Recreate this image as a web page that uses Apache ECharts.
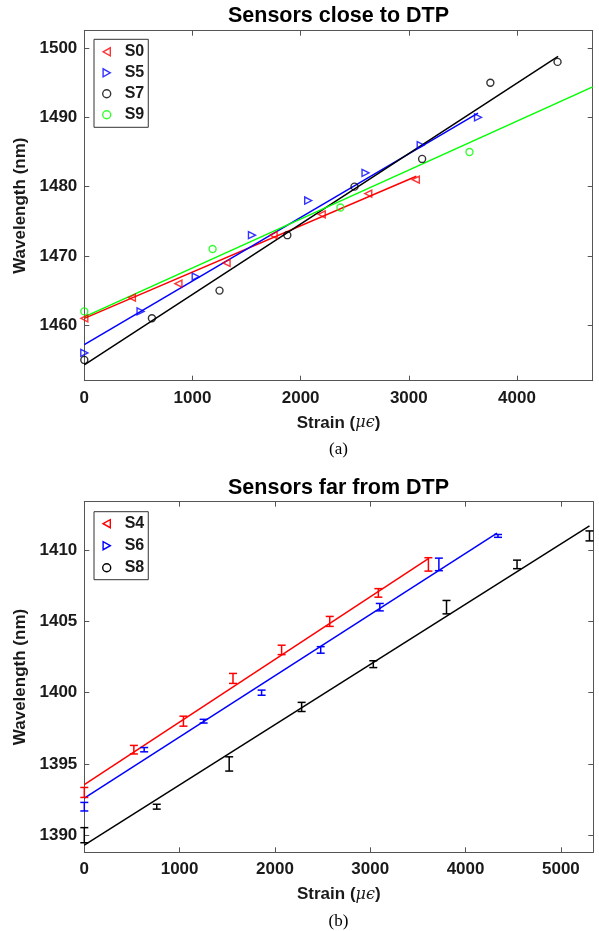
<!DOCTYPE html>
<html><head><meta charset="utf-8">
<script src="https://cdn.jsdelivr.net/npm/echarts@6/dist/echarts.min.js"></script>
<style>html,body{margin:0;padding:0;background:#fff}#c{width:599px;height:931px}</style>
</head><body><div id="c"></div>
<script>
// ---------- Panel (a): sensors close to DTP ----------
const aXTicks = [0, 1000, 2000, 3000, 4000];
const aYTicks = [1460, 1470, 1480, 1490, 1500];
const s0X = [0, 440, 870, 1315, 1750, 2195, 2625, 3065];
const s0Y = [1461, 1464, 1466, 1469, 1473, 1476, 1479, 1481];
const s5X = [0, 520, 1030, 1550, 2070, 2600, 3110, 3640];
const s5Y = [1456, 1462, 1467, 1473, 1478, 1482, 1486, 1490];
const s7X = [0, 625, 1250, 1877, 2498, 3123, 3754, 4375];
const s7Y = [1455, 1461, 1465, 1473, 1480, 1484, 1495, 1498];
const s9X = [0, 1186, 2368, 3561];
const s9Y = [1462, 1471, 1477, 1485];
// fitted lines (endpoints)
const s0FitX = [0, 3070];   const s0FitY = [1461.0, 1481.5];
const s5FitX = [0, 3640];   const s5FitY = [1457.2, 1490.6];
const s7FitX = [0, 4380];   const s7FitY = [1454.3, 1498.8];
const s9FitX = [0, 4700];   const s9FitY = [1461.2, 1494.4];

// ---------- Panel (b): sensors far from DTP ----------
const bXTicks = [0, 1000, 2000, 3000, 4000, 5000];
const bYTicks = [1390, 1395, 1400, 1405, 1410];
const s4X = [0, 520, 1040, 1560, 2070, 2575, 3085, 3610];
const s4Y = [1393, 1396, 1398, 1401, 1403, 1405, 1407, 1409];
const s4Err = [0.35, 0.3, 0.35, 0.35, 0.33, 0.35, 0.3, 0.47];
const s6X = [0, 628, 1252, 1860, 2480, 3100, 3720, 4340];
const s6Y = [1392, 1396, 1398, 1400, 1403, 1406, 1409, 1411];
const s6Err = [0.3, 0.15, 0.13, 0.18, 0.23, 0.26, 0.44, 0.1];
const s8X = [0, 760, 1520, 2280, 3032, 3800, 4540, 5300];
const s8Y = [1390, 1392, 1395, 1399, 1402, 1406, 1409, 1411];
const s8Err = [0.53, 0.17, 0.5, 0.32, 0.24, 0.47, 0.3, 0.35];
const s4FitX = [0, 3610];   const s4FitY = [1393.55, 1409.4];
const s6FitX = [0, 4330];   const s6FitY = [1392.6, 1411.2];
const s8FitX = [0, 5300];   const s8FitY = [1389.3, 1411.7];

const RED = '#ff0000', BLUE = '#0000ff', BLACK = '#000000', GREEN = '#00ff00';
const FONT = "'Liberation Sans', Arial, sans-serif";
const txt = {fontFamily: FONT, fontWeight: 'bold', fontSize: 17, color: '#1a1a1a'};
const axLine = {color: '#555555', width: 1};
const LEFT_TRI = 'path://M0,5L9,0L9,10Z';
const RIGHT_TRI = 'path://M9,5L0,0L0,10Z';
const plain = v => String(v);

const zip = (xs, ys) => xs.map((x, i) => [x, ys[i]]);
const zip3 = (xs, ys, es) => xs.map((x, i) => [x, ys[i], es[i]]);

const strainName = '{a|Strain (}{b|μϵ}{a|)}';
const strainStyle = {rich: {
  a: {fontFamily: FONT, fontWeight: 'bold', fontSize: 17, color: '#1a1a1a'},
  b: {fontFamily: "'DejaVu Serif', serif", fontStyle: 'italic', fontSize: 16, color: '#1a1a1a'}
}};

function xPair(gi, max, ticks) {
  return [
    {type: 'value', gridIndex: gi, min: 0, max: max, position: 'bottom',
     axisLine: {show: true, onZero: false, lineStyle: axLine},
     axisTick: {show: true, inside: true, length: 5, customValues: ticks, lineStyle: axLine},
     axisLabel: Object.assign({customValues: ticks, margin: 9, formatter: plain}, txt),
     splitLine: {show: false},
     name: strainName, nameLocation: 'middle', nameGap: 34, nameTextStyle: strainStyle},
    {type: 'value', gridIndex: gi, min: 0, max: max, position: 'top',
     axisLine: {show: true, onZero: false, lineStyle: axLine},
     axisTick: {show: true, inside: true, length: 5, customValues: ticks, lineStyle: axLine},
     axisLabel: {show: false}, splitLine: {show: false}}
  ];
}
function yPair(gi, min, max, ticks) {
  return [
    {type: 'value', gridIndex: gi, min: min, max: max, position: 'left',
     axisLine: {show: true, onZero: false, lineStyle: axLine},
     axisTick: {show: true, inside: true, length: 5, customValues: ticks, lineStyle: axLine},
     axisLabel: Object.assign({customValues: ticks, margin: 7, formatter: plain}, txt),
     splitLine: {show: false},
     name: 'Wavelength (nm)', nameLocation: 'middle', nameGap: 54, nameTextStyle: txt},
    {type: 'value', gridIndex: gi, min: min, max: max, position: 'right',
     axisLine: {show: true, onZero: false, lineStyle: axLine},
     axisTick: {show: true, inside: true, length: 5, customValues: ticks, lineStyle: axLine},
     axisLabel: {show: false}, splitLine: {show: false}}
  ];
}

function scatter(name, xs, ys, sym, color) {
  return {type: 'scatter', name: name, xAxisIndex: 0, yAxisIndex: 0,
    data: zip(xs, ys), symbol: sym, symbolSize: 7, z: 5,
    itemStyle: {color: 'rgba(0,0,0,0)', borderColor: color, borderWidth: 1.4}};
}
function fit(name, xs, ys, color, xi, yi) {
  return {type: 'line', name: name, xAxisIndex: xi, yAxisIndex: yi,
    data: zip(xs, ys), showSymbol: false, symbol: 'none', silent: true, z: 3,
    lineStyle: {color: color, width: 1.5}};
}
function errbars(name, xs, ys, es, color) {
  return {type: 'custom', name: name, xAxisIndex: 2, yAxisIndex: 2,
    data: zip3(xs, ys, es), encode: {x: 0, y: 1}, z: 5,
    itemStyle: {color: color},
    renderItem: function (params, api) {
      const x = api.value(0), y = api.value(1), e = api.value(2);
      const lo = api.coord([x, y - e]);
      const hi = api.coord([x, y + e]);
      const w = 4;
      const st = {stroke: color, lineWidth: 1.5, fill: 'none'};
      return {type: 'group', children: [
        {type: 'line', shape: {x1: lo[0], y1: lo[1], x2: hi[0], y2: hi[1]}, style: st},
        {type: 'line', shape: {x1: lo[0] - w, y1: lo[1], x2: lo[0] + w, y2: lo[1]}, style: st},
        {type: 'line', shape: {x1: hi[0] - w, y1: hi[1], x2: hi[0] + w, y2: hi[1]}, style: st}
      ]};
    }};
}

const legendBase = {
  orient: 'vertical', left: 94, itemWidth: 26, itemHeight: 8, itemGap: 0,
  borderColor: '#333333', borderWidth: 1, backgroundColor: '#ffffff',
  textStyle: {fontFamily: FONT, fontWeight: 'bold', fontSize: 16, color: '#1a1a1a', lineHeight: 21},
  selectedMode: false
};
const li = (name, icon, color) => ({name: name, icon: icon,
  itemStyle: {color: 'rgba(0,0,0,0)', borderColor: color, borderWidth: 1.4}});

const option = {
  animation: false,
  backgroundColor: '#ffffff',
  grid: [
    {left: 84.3, top: 30.7, width: 508.4, height: 350, containLabel: false},
    {left: 84.3, top: 501.7, width: 509, height: 350.6, containLabel: false}
  ],
  xAxis: [].concat(xPair(0, 4700, aXTicks), xPair(1, 5340, bXTicks)),
  yAxis: [].concat(yPair(0, 1452, 1502.5, aYTicks), yPair(1, 1388.8, 1413.4, bYTicks)),
  legend: [
    Object.assign({}, legendBase, {top: 39.3, padding: [2, 4, 2, 8],
      data: [li('S0', LEFT_TRI, RED), li('S5', RIGHT_TRI, BLUE), li('S7', 'circle', BLACK), li('S9', 'circle', GREEN)]}),
    Object.assign({}, legendBase, {top: 511.7, padding: [1, 4, 1, 8],
      textStyle: Object.assign({}, legendBase.textStyle, {lineHeight: 22}),
      data: [li('S4', LEFT_TRI, RED), li('S6', RIGHT_TRI, BLUE), li('S8', 'circle', BLACK)]})
  ],
  graphic: [
    {type: 'text', x: 338.5, y: 16, style: {text: 'Sensors close to DTP', font: "bold 21.5px 'Liberation Sans'", fill: '#000', align: 'center', verticalAlign: 'middle'}},
    {type: 'text', x: 338.5, y: 450, style: {text: '(a)', font: "17px 'Liberation Serif'", fill: '#000', align: 'center', verticalAlign: 'middle'}},
    {type: 'text', x: 338.5, y: 488.3, style: {text: 'Sensors far from DTP', font: "bold 21.5px 'Liberation Sans'", fill: '#000', align: 'center', verticalAlign: 'middle'}},
    {type: 'text', x: 338.5, y: 921.7, style: {text: '(b)', font: "17px 'Liberation Serif'", fill: '#000', align: 'center', verticalAlign: 'middle'}}
  ],
  series: [
    fit('S0 fit', s0FitX, s0FitY, RED, 0, 0),
    fit('S5 fit', s5FitX, s5FitY, BLUE, 0, 0),
    fit('S7 fit', s7FitX, s7FitY, BLACK, 0, 0),
    fit('S9 fit', s9FitX, s9FitY, GREEN, 0, 0),
    scatter('S0', s0X, s0Y, LEFT_TRI, RED),
    scatter('S5', s5X, s5Y, RIGHT_TRI, BLUE),
    scatter('S7', s7X, s7Y, 'circle', BLACK),
    scatter('S9', s9X, s9Y, 'circle', GREEN),
    fit('S4 fit', s4FitX, s4FitY, RED, 2, 2),
    fit('S6 fit', s6FitX, s6FitY, BLUE, 2, 2),
    fit('S8 fit', s8FitX, s8FitY, BLACK, 2, 2),
    errbars('S4', s4X, s4Y, s4Err, RED),
    errbars('S6', s6X, s6Y, s6Err, BLUE),
    errbars('S8', s8X, s8Y, s8Err, BLACK)
  ]
};
const chart = echarts.init(document.getElementById('c'), null, {renderer: 'canvas'});
chart.setOption(option);
</script></body></html>
